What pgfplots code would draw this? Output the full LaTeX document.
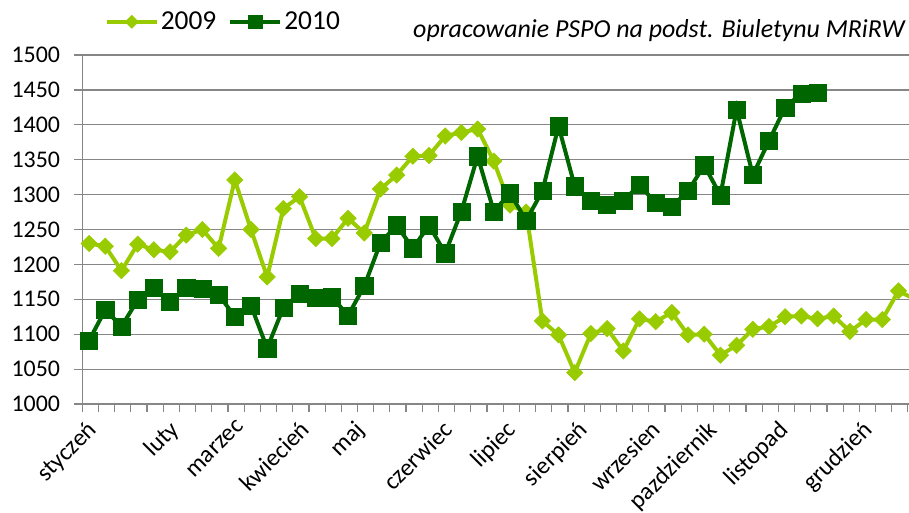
\documentclass[border=0pt]{standalone}
\usepackage{pgfplots}
\pgfplotsset{compat=1.18}
\usepackage{fontspec}
\setmainfont{Carlito}
\definecolor{lgreen}{RGB}{153,204,0}
\definecolor{dgreen}{RGB}{0,102,0}
\definecolor{gridgray}{RGB}{134,134,134}
\begin{document}
\begin{tikzpicture}
\begin{axis}[
  at={(82.3bp,109bp)}, anchor=south west,
  width=826.7bp, height=349bp, scale only axis,
  xmin=-0.42, xmax=50.65,
  ymin=1000, ymax=1500,
  ytick={1000,1050,...,1500},
  xtick={-0.42,0.58,...,50.6},
  xticklabels={},
  extra x ticks={0.3,5.4,9.57,13.46,16.86,22.3,26.19,30.64,35.14,38.6,43.0,48.2},
  extra x tick labels={styczeń,luty,marzec,kwiecień,maj,czerwiec,lipiec,sierpień,wrzesien,pazdziernik,listopad,grudzień},
  extra x tick style={grid=none, major tick length=0pt,
     xticklabel style={xshift=-8bp, yshift=-15bp, rotate=45, anchor=north east, inner sep=0pt, font=\fontsize{24.5}{24.5}\selectfont}},
  ymajorgrids, grid style={draw=gridgray, line width=1.2bp},
  axis x line*=bottom, axis y line*=left,
  axis line style={draw=gridgray, line width=1.2bp},
  major tick length=8bp, tick align=outside,
  tick style={draw=gridgray, line width=1.2bp},
  yticklabel style={font=\fontsize{24}{24}\selectfont, /pgf/number format/1000 sep={}, /pgf/number format/assume math mode=true, anchor=east, inner sep=0pt, xshift=-14bp},
  clip mode=individual, clip bounding box=upper bound,
  legend columns=-1,
  legend style={at={(0.027,1.095)}, anchor=west, draw=none, fill=none,
     font=\fontsize{27.5}{27.5}\selectfont, inner sep=0pt,
     /tikz/every even column/.append style={column sep=10bp}},
  legend image code/.code={\draw[mark repeat=2,mark phase=2,#1,every mark/.append style={scale=0.8}] plot coordinates {(0bp,0bp) (25bp,0bp) (50bp,0bp)};},
]
\addplot[color=lgreen, line width=4bp, mark=square*, mark size=5.8bp, mark options={rotate=45, draw=lgreen, fill=lgreen, line width=0.5bp}] coordinates {
(0,1230) (1,1226) (2,1191) (3,1229) (4,1221) (5,1218) (6,1242) (7,1250) (8,1223) (9,1321)
(10,1250) (11,1182) (12,1280) (13,1297) (14,1237) (15,1237) (16,1266) (17,1245) (18,1308) (19,1328)
(20,1355) (21,1356) (22,1384) (23,1389) (24,1394) (25,1348) (26,1285) (27,1275) (28,1119) (29,1099)
(30,1045) (31,1101) (32,1108) (33,1076) (34,1122) (35,1118) (36,1131) (37,1099) (38,1100) (39,1070)
(40,1084) (41,1107) (42,1111) (43,1125) (44,1126) (45,1122) (46,1126) (47,1104) (48,1121) (49,1121)
(50,1162) (51,1150)
};
\addlegendentry{2009}
\addplot[color=dgreen, line width=4bp, mark=square*, mark size=8.6bp, mark options={draw=dgreen, fill=dgreen, line width=0.5bp}] coordinates {
(0,1091) (1,1135) (2,1111) (3,1149) (4,1167) (5,1146) (6,1167) (7,1165) (8,1157) (9,1125)
(10,1141) (11,1080) (12,1138) (13,1158) (14,1152) (15,1153) (16,1127) (17,1169) (18,1231) (19,1256)
(20,1223) (21,1256) (22,1216) (23,1276) (24,1355) (25,1276) (26,1302) (27,1263) (28,1305) (29,1398)
(30,1312) (31,1291) (32,1285) (33,1291) (34,1314) (35,1288) (36,1283) (37,1305) (38,1342) (39,1299)
(40,1422) (41,1328) (42,1377) (43,1425) (44,1445) (45,1446)
};
\addlegendentry{2010}
\end{axis}
\node[anchor=east, inner sep=0pt, font=\fontsize{26}{26}\selectfont\itshape] at (905bp,482bp) {opracowanie PSPO na podst. Biuletynu MRiRW};
\pgfresetboundingbox
\path[use as bounding box] (0bp,0bp) rectangle (909bp,513bp);
\end{tikzpicture}
\end{document}
